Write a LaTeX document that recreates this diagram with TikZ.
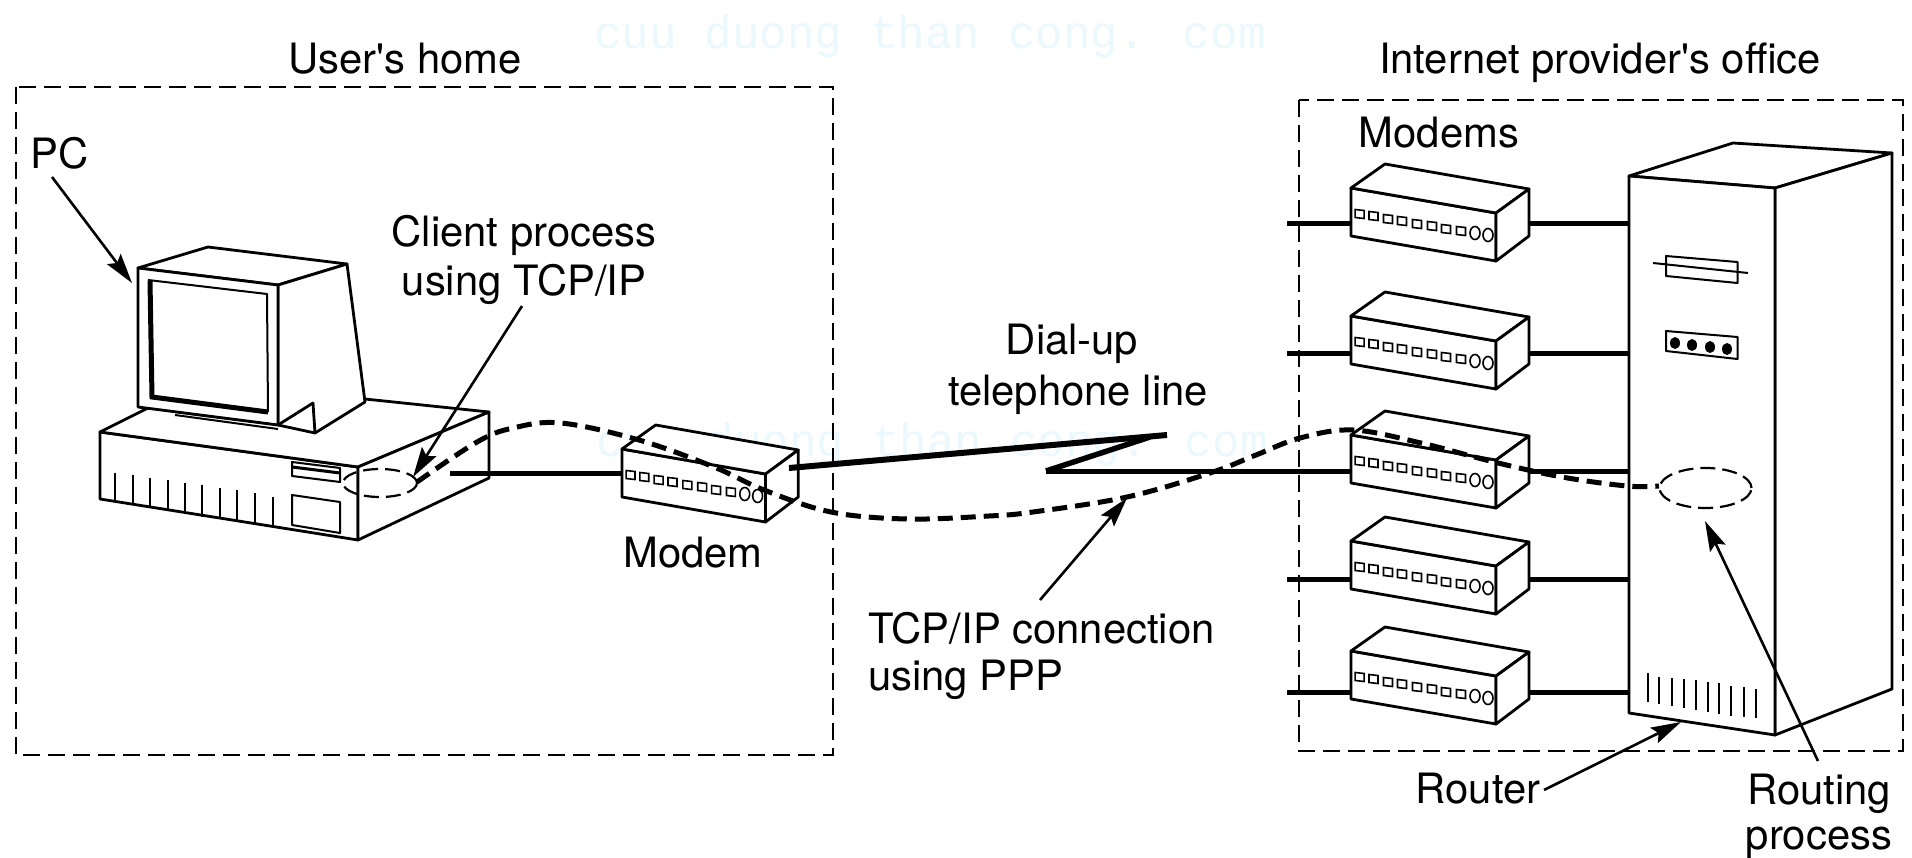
\documentclass[tikz,border=0pt]{standalone}
\usepackage{fontspec}
\setmainfont{TeX Gyre Heros}
\newfontfamily\wmfont{Liberation Mono}
\usetikzlibrary{arrows.meta}
\tikzset{
  x=1pt,y=-1pt,
  shape line/.style={line width=2.8pt,line join=round,line cap=round,fill=white},
  thin shape/.style={line width=2pt,line join=round},
  wire/.style={line width=5pt},
  box line/.style={line width=2.4pt,dash pattern=on 17pt off 8pt},
  link/.style={line width=5pt,dash pattern=on 15pt off 8pt},
  proc/.style={line width=2.2pt,dash pattern=on 15pt off 7pt},
  callout/.style={line width=2.6pt,-{Stealth[length=30pt,width=17pt,inset=5pt]}},
  lab/.style={font=\fontsize{41.8}{47}\selectfont,anchor=base,inner sep=0pt,outer sep=0pt},
  wmark/.style={font=\wmfont\fontsize{46}{50}\selectfont,text=cyan!8,inner sep=0pt}
}
\newcommand{\modembox}[4]{%
  \begin{scope}[shift={(#2,#3)},xscale=#4]
    \draw[shape line] (0,0) -- (145,25) -- (145,73) -- (0,48) -- cycle;
    \draw[shape line] (0,0) -- (34,-24) -- (178,1) -- (145,25) -- cycle;
    \draw[shape line] (145,25) -- (178,1) -- (178,48) -- (145,73) -- cycle;
    \foreach \dx/\dy in {8.6/26,22.5/28,37/31,51/33,66/36,81/38,95/41,110/43}
      \draw[line width=1.6pt] (\dx-4.5,\dy-4.5) -- (\dx+4.5,\dy-3.5) -- (\dx+4.5,\dy+4.5) -- (\dx-4.5,\dy+3.5) -- cycle;
    \foreach \dx/\dy in {124/45,137/47}
      \draw[line width=1.6pt] (\dx,\dy) ellipse [x radius=5pt,y radius=6.5pt];
  \end{scope}}
\begin{document}
\begin{tikzpicture}
\useasboundingbox (0,0) rectangle (1912,857);
\fill[white] (0,0) rectangle (1912,857);
% watermark
\node[wmark] (wm1) at (930,37) {cuu duong than cong. com};
\node[wmark] (wm2) at (932,445) {cuu duong than cong. com};
% dashed boundaries
\draw[box line] (16,87) rectangle (833,755);
\draw[box line] (1299,100) rectangle (1903,751);
% PC base
\draw[shape line] (100,432) -- (358,467) -- (358,540) -- (100,499) -- cycle;
\draw[shape line] (100,432) -- (148,408) -- (365,399) -- (489,412) -- (358,467) -- cycle;
\draw[shape line] (358,467) -- (489,412) -- (489,478) -- (358,540) -- cycle;
\foreach \vx/\vtop/\vbot in {115/473/502,133/475/505,150/478/508,168/480/511,185/483/514,202/485/517,220/488/519,237/490/522,255/493/525,273/497/528}
  \draw[thin shape] (\vx,\vtop) -- (\vx,\vbot);
\draw[thin shape] (292,462) -- (340,468) -- (340,482) -- (292,476) -- cycle;
\draw[line width=3pt] (292,467) -- (340,473);
\draw[thin shape] (292,495) -- (340,502) -- (340,533) -- (292,525) -- cycle;
% monitor
\draw[shape line] (138,268) -- (208,247) -- (347,264) -- (278,285) -- cycle;
\draw[shape line] (278,285) -- (347,264) -- (365,402) -- (315,433) -- (278,425) -- cycle;
\draw[shape line] (313,403) -- (315,433);
\draw[shape line] (278,425) -- (313,403);
\draw[shape line] (138,268) -- (278,285) -- (278,425) -- (138,407) -- cycle;
\draw[thin shape] (148,280) -- (267,294) -- (268,412);
\draw[line width=5pt,line join=miter] (150,281) -- (152,397) -- (268,412);
\draw[thin shape] (175,412) -- (278,425);
\draw[thin shape] (175,415) -- (278,429);
% PC process
\draw[proc] (380,483) ellipse [x radius=37pt,y radius=14pt];
% router
\draw[shape line] (1629,176) -- (1733,143) -- (1892,153) -- (1775,188) -- cycle;
\draw[shape line] (1775,188) -- (1892,153) -- (1892,689) -- (1775,735) -- cycle;
\draw[shape line] (1629,176) -- (1775,188) -- (1775,735) -- (1629,713) -- cycle;
\draw[thin shape] (1666,256) -- (1737.5,262) -- (1737.5,283) -- (1666,276) -- cycle;
\draw[thin shape] (1653,263) -- (1748,273);
\draw[thin shape] (1666,331) -- (1737.5,337) -- (1737.5,359) -- (1666,351) -- cycle;
\foreach \lx/\ly in {1675/343,1692/345,1710/347,1727/349}
  \fill (\lx,\ly) ellipse [x radius=5pt,y radius=6pt];
\foreach \vx/\vtop/\vbot in {1648/673/702,1659/677/704,1672/678/706,1684/679/708,1696/680/710,1708/682/712,1719/683/714,1731/686/716,1744/687/717,1756/689/718}
  \draw[line width=1.6pt] (\vx,\vtop) -- (\vx,\vbot);
\draw[proc] (1705.5,488) ellipse [x radius=46pt,y radius=20pt];
% modems
\modembox{m0}{622}{449}{0.99}
\modembox{m1}{1351}{188}{1}
\modembox{m2}{1351}{316}{1}
\modembox{m3}{1351}{435}{1}
\modembox{m4}{1351}{541}{1}
\modembox{m5}{1351}{651}{1}
% wires
\coordinate (pcout) at (450,473);
\draw[wire] (pcout) -- (622,473);
\foreach \i/\yy in {1/223,2/353,3/471,4/579,5/692}{
  \coordinate (f\i) at (1287,\yy);
  \coordinate (g\i) at (1629,\yy);
  \draw[wire] (f\i) -- (1351,\yy);
  \draw[wire] (1529,\yy) -- (g\i);
}
% telephone line
\coordinate (z0) at (789,468);
\coordinate (z1) at (1167,435);
\coordinate (z2) at (1046,471);
\coordinate (z3) at (1351,471);
\draw[line width=6pt] (z0) -- (z1);
\draw[line width=5.5pt] (1150,437) -- (z2);
\draw[line width=5pt] (z2) -- (z3);
% TCP/IP connection
\draw[link] plot[smooth,tension=0.6] coordinates {(417,482) (477,442) (513,428) (561,423) (639,440) (714,467) (764,490) (831,512) (907,519) (989,516) (1033,512) (1127,497) (1210,473) (1256,455) (1300,438) (1353,430) (1421,443) (1494,462) (1562,477) (1627,486) (1659,486)};
% labels
\node[lab] (lhome) at (405,73) {User\textquotesingle s home};
\node[lab] (loffice) at (1600,73) {Internet provider\textquotesingle s office};
\node[lab] (lpc) at (60,168) {PC};
\node[lab] (lclient1) at (524,246) {Client process};
\node[lab] (lclient2) at (524,295) {using TCP/IP};
\node[lab] (ldial1) at (1072,354) {Dial-up};
\node[lab] (ldial2) at (1078,405) {telephone line};
\node[lab,anchor=base west] (ltcp1) at (868,643) {TCP/IP connection};
\node[lab,anchor=base west] (ltcp2) at (868,690) {using PPP};
\node[lab] (lmodem) at (693,567) {Modem};
\node[lab] (lmodems) at (1439,147) {Modems};
\node[lab] (lrouter) at (1478,803) {Router};
\node[lab] (lrouting1) at (1819,804) {Routing};
\node[lab] (lrouting2) at (1819,849) {process};
% callouts
\coordinate (apc) at (52,177);  \coordinate (bpc) at (132,283);
\coordinate (acl) at (522,306); \coordinate (bcl) at (413,477);
\coordinate (atc) at (1040,600); \coordinate (btc) at (1127,498);
\coordinate (art) at (1544,790); \coordinate (brt) at (1681,722);
\coordinate (arp) at (1818,761); \coordinate (brp) at (1705,521);
\draw[callout] (apc) -- (bpc);
\draw[callout] (acl) -- (bcl);
\draw[callout] (atc) -- (btc);
\draw[callout] (art) -- (brt);
\draw[callout] (arp) -- (brp);
\end{tikzpicture}
\end{document}
